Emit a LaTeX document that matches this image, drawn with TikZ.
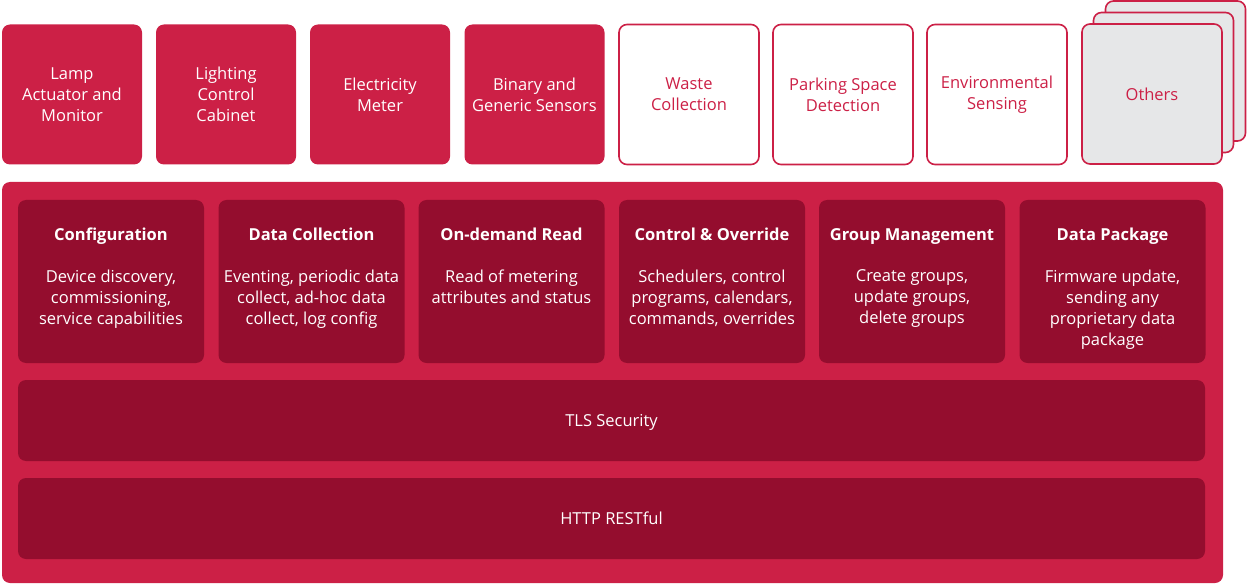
\documentclass[tikz,border=0pt]{standalone}
\usepackage{fontspec}
\setmainfont{Open Sans}
\definecolor{bred}{HTML}{CC2046}
\definecolor{dred}{HTML}{940D2E}
\definecolor{lgray}{HTML}{E6E7E8}
\tikzset{
  topbox/.style={rectangle, rounded corners=8pt, minimum width=140pt, minimum height=140pt,
    align=center, inner sep=0pt, font=\fontsize{16.5}{21}\selectfont},
  topred/.style={topbox, fill=bred, text=white},
  topwhite/.style={topbox, fill=white, draw=bred, line width=1.6pt, text=bred},
  topgray/.style={topbox, fill=lgray, draw=bred, line width=1.6pt, text=bred},
  innerbox/.style={rectangle, rounded corners=8pt, fill=dred, minimum width=186pt, minimum height=163pt, inner sep=0pt},
  layerbox/.style={rectangle, rounded corners=8pt, fill=dred, minimum width=1187pt, minimum height=81pt, inner sep=0pt,
    text=white, font=\fontsize{16.5}{21}\selectfont, text height=12pt, text depth=0pt},
  ttl/.style={text=white, font=\bfseries\fontsize{16.5}{21}\selectfont, inner sep=0pt, anchor=base},
  bdy/.style={text=white, font=\fontsize{16.5}{21}\selectfont, inner sep=0pt, align=center, anchor=north}
}
\begin{document}
\begin{tikzpicture}[x=1pt,y=-1pt]
\useasboundingbox (0,0) rectangle (1247,585);
% top row
\node[topred] (lamp) at (72,94.5) {Lamp\\Actuator and\\Monitor};
\node[topred] (lcc) at (226,94.5) {Lighting\\Control\\Cabinet};
\node[topred] (meter) at (380,94.5) {Electricity\\Meter};
\node[topred] (sensors) at (534.5,94.5) {Binary and\\Generic Sensors};
\node[topwhite] (waste) at (689,94.5) {Waste\\Collection};
\node[topwhite] (parking) at (843,94.5) {Parking Space\\Detection};
\node[topwhite] (env) at (997,94.5) {Environmental\\Sensing};
\node[topgray] (othersback) at (1175.5,71) {};
\node[topgray] (othersmid) at (1163.5,82.5) {};
\node[topgray] (others) at (1152,94) {Others};
% platform
\node[rectangle, rounded corners=8pt, fill=bred, minimum width=1221pt, minimum height=401pt, inner sep=0pt] (platform) at (612.5,382.5) {};
% inner boxes
\foreach \n/\x/\t/\b in {
  cfg/111/Configuration/{Device discovery,\\commissioning,\\service capabilities},
  dc/311.5/Data Collection/{Eventing, periodic data\\collect, ad-hoc data\\collect, log config},
  odr/511.5/On-demand Read/{Read of metering\\attributes and status},
  ctl/712/Control \& Override/{Schedulers, control\\programs, calendars,\\commands, overrides},
  grp/912/Group Management/{Create groups,\\update groups,\\delete groups},
  pkg/1112.5/Data Package/{Firmware update,\\sending any\\proprietary data\\package}}
{
  \node[innerbox] (\n) at (\x,281.5) {};
  \node[ttl] (\n-title) at (\x,241) {\t};
  \node[bdy] (\n-body) at (\x,269.5) {\b};
}
\node[layerbox] (tls) at (611.5,420.5) {TLS Security};
\node[layerbox] (http) at (611.5,518.5) {HTTP RESTful};
\end{tikzpicture}
\end{document}
